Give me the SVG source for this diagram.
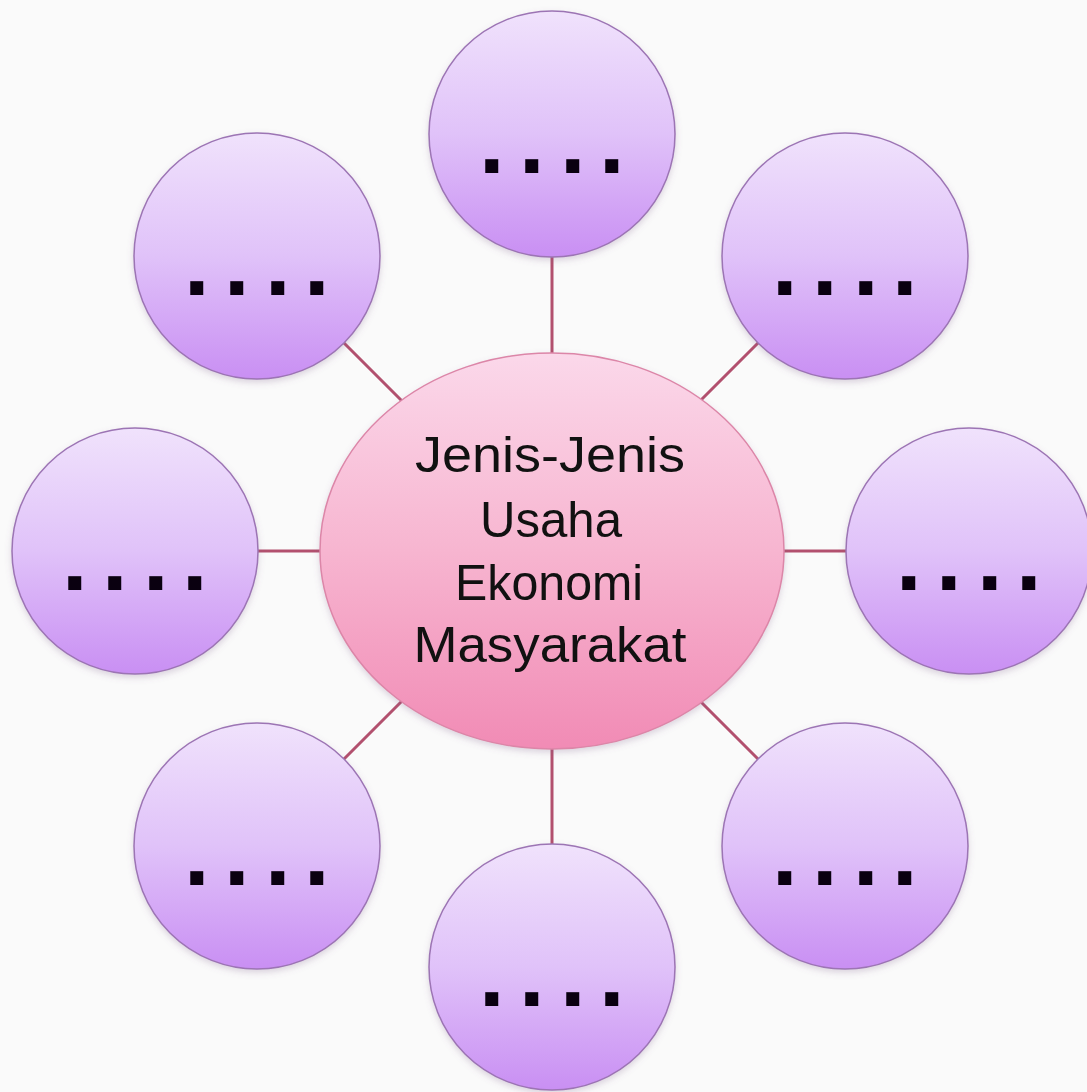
<svg xmlns="http://www.w3.org/2000/svg" width="1087" height="1092" viewBox="0 0 1087 1092">
<style>
.sat{fill:url(#gSat);stroke:#9c74b4;stroke-width:1.5;filter:url(#sh)}
.dots{font-family:"Liberation Sans",Arial,sans-serif;font-weight:bold;font-size:92px;fill:#0a0010}
.conn line{stroke:#b2506e;stroke-width:3}
.title{font-family:"Liberation Sans",Arial,sans-serif;font-size:50px;fill:#111;text-anchor:middle}
</style>
<defs>
<linearGradient id="gSat" x1="0" y1="0" x2="0" y2="1">
<stop offset="0" stop-color="#f0e2fc"/>
<stop offset="0.5" stop-color="#e0c2f9"/>
<stop offset="1" stop-color="#c98ff3"/>
</linearGradient>
<linearGradient id="gCen" x1="0" y1="0" x2="0" y2="1">
<stop offset="0" stop-color="#fbd8ea"/>
<stop offset="0.5" stop-color="#f7b5d0"/>
<stop offset="1" stop-color="#f18bb5"/>
</linearGradient>
<filter id="sh" x="-20%" y="-20%" width="140%" height="140%">
<feDropShadow dx="0" dy="3" stdDeviation="3" flood-color="#7a5a8a" flood-opacity="0.25"/>
</filter>
</defs>
<rect width="1087" height="1092" fill="#fafafa"/>
<g class="conn" id="connectors">
<line x1="552" y1="257" x2="552" y2="353"/>
<line x1="552" y1="749" x2="552" y2="845"/>
<line x1="258" y1="551" x2="320" y2="551"/>
<line x1="784" y1="551" x2="846" y2="551"/>
<line x1="344" y1="343" x2="402" y2="401"/>
<line x1="758" y1="343" x2="700" y2="401"/>
<line x1="344" y1="759" x2="402" y2="701"/>
<line x1="758" y1="759" x2="700" y2="701"/>
</g>
<g id="center">
<ellipse cx="552" cy="551" rx="232" ry="198" fill="url(#gCen)" stroke="#dc86a8" stroke-width="1.5" filter="url(#sh)"/>
<text class="title" x="550" y="472" textLength="270" lengthAdjust="spacingAndGlyphs">Jenis-Jenis</text>
<text class="title" x="551" y="537" textLength="142" lengthAdjust="spacingAndGlyphs">Usaha</text>
<text class="title" x="549" y="600" textLength="188" lengthAdjust="spacingAndGlyphs">Ekonomi</text>
<text class="title" x="550" y="662" textLength="273" lengthAdjust="spacingAndGlyphs">Masyarakat</text>
</g>
<g id="n-top"><circle class="sat" cx="552" cy="134" r="123"/><text class="dots" x="479 519 560 599" y="173">....</text></g>
<g id="n-topright"><circle class="sat" cx="845" cy="256" r="123"/><text class="dots" x="772 812 853 892" y="295">....</text></g>
<g id="n-right"><circle class="sat" cx="969" cy="551" r="123"/><text class="dots" x="896 936 977 1016" y="590">....</text></g>
<g id="n-bottomright"><circle class="sat" cx="845" cy="846" r="123"/><text class="dots" x="772 812 853 892" y="885">....</text></g>
<g id="n-bottom"><circle class="sat" cx="552" cy="967" r="123"/><text class="dots" x="479 519 560 599" y="1006">....</text></g>
<g id="n-bottomleft"><circle class="sat" cx="257" cy="846" r="123"/><text class="dots" x="184 224 265 304" y="885">....</text></g>
<g id="n-left"><circle class="sat" cx="135" cy="551" r="123"/><text class="dots" x="62 102 143 182" y="590">....</text></g>
<g id="n-topleft"><circle class="sat" cx="257" cy="256" r="123"/><text class="dots" x="184 224 265 304" y="295">....</text></g>
</svg>
